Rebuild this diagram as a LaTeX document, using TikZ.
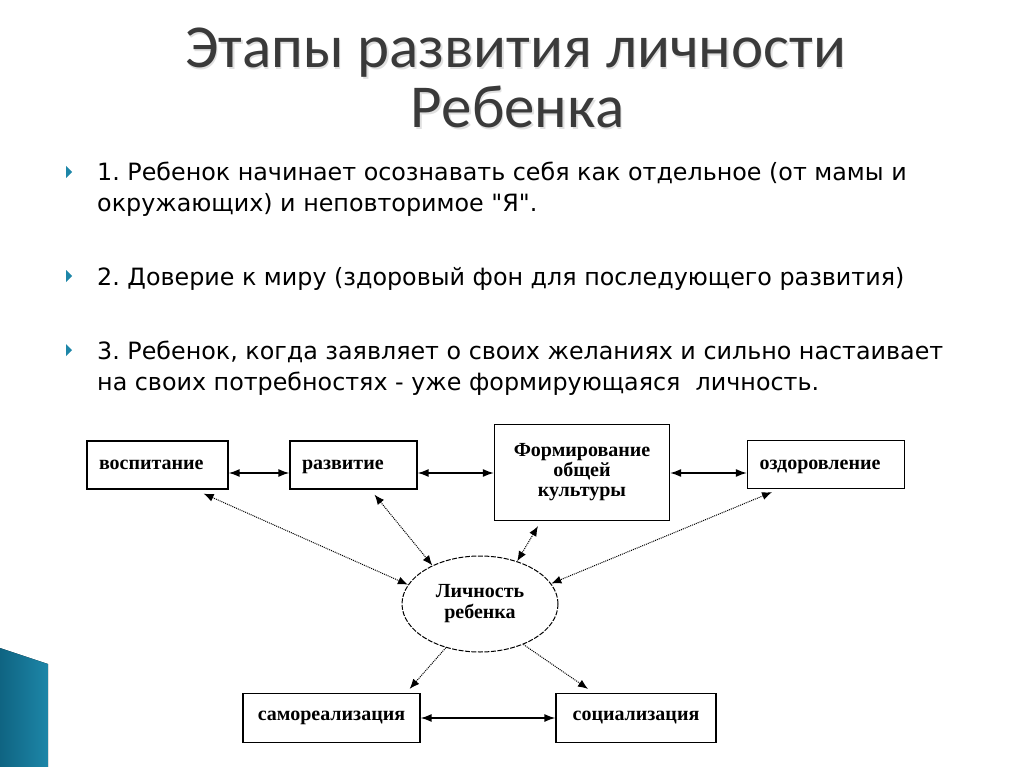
\documentclass[tikz,border=0pt]{standalone}
\usepackage{fontspec}
\setmainfont{DejaVu Sans}
\newfontfamily\bodyfont{DejaVu Sans}
\newfontfamily\titlefont{Carlito}
\newfontfamily\diafont{Liberation Serif}
\usetikzlibrary{shapes.geometric,arrows.meta}
\definecolor{titlegrey}{HTML}{3A3A3A}
\definecolor{teal}{HTML}{1D86A8}
\definecolor{tealdark}{HTML}{0F6482}
\frenchspacing
\tikzset{
  box/.style={draw=black, line width=1.2pt, inner sep=2pt, align=center,
    font=\diafont\bfseries\fontsize{20}{23}\selectfont},
  leftbox/.style={box, align=left, inner xsep=12pt, minimum height=48pt},
  titletext/.style={font=\titlefont\fontsize{61}{66}\selectfont, text=titlegrey, anchor=base},
  bodytext/.style={font=\bodyfont\fontsize{23.8}{28}\selectfont, anchor=base west, inner sep=0pt, text=black},
  bulletmark/.style={fill=teal, draw=none},
  solidlink/.style={line width=1.5pt, {Latex[length=11pt,width=8pt]}-{Latex[length=11pt,width=8pt]}},
  dotlink/.style={line width=1pt, densely dotted, {Latex[length=10pt,width=8pt]}-{Latex[length=10pt,width=8pt]}},
  dotone/.style={line width=1pt, densely dotted, -{Latex[length=10pt,width=8pt]}},
}
\begin{document}
\begin{tikzpicture}[x=1pt,y=-1pt]
\useasboundingbox (0,0) rectangle (1024,767);
\fill[white] (0,0) rectangle (1024,767);
% corner decoration
\fill[left color=tealdark, right color=teal] (0,648) -- (48,664) -- (48,767) -- (0,767) -- cycle;
% title
\node[titletext, text=black!12] (t1s) at (517,69.5) {Этапы развития личности};
\node[titletext] (t1) at (515.5,68) {Этапы развития личности};
\node[titletext, text=black!12] (t2s) at (519,129.5) {Ребенка};
\node[titletext] (t2) at (517.5,128) {Ребенка};
% bullets
\foreach \yy in {172,276,350}{
  \fill[bulletmark] (66,\yy-6) -- (72,\yy) -- (66,\yy+6) -- cycle;
}
\node[bodytext] (l1) at (97,181) {1. Ребенок начинает осознавать себя как отдельное (от мамы и};
\node[bodytext] (l2) at (97,212) {окружающих) и неповторимое "Я".};
\node[bodytext] (l3) at (97,285) {2. Доверие к миру (здоровый фон для последующего развития)};
\node[bodytext] (l4) at (97,359) {3. Ребенок, когда заявляет о своих желаниях и сильно настаивает};
\node[bodytext] (l5) at (97,390) {на своих потребностях - уже формирующаяся\ \ личность.};
% diagram
\node[leftbox, text width=117pt] (vos) at (157.5,465) {\strut воспитание};
\node[leftbox, text width=103pt] (raz) at (353.5,465) {\strut развитие};
\node[box, minimum width=175pt, minimum height=96pt] (form) at (582,472.5) {Формирование\\[-3pt]общей\\[-3pt]культуры};
\node[leftbox, text width=133pt] (ozd) at (826,464.5) {\strut оздоровление};
\node[box, draw=none, ellipse, minimum width=156pt, minimum height=96pt] (lich) at (480,604) {Личность\\[-2pt]ребенка};
\draw[line width=1pt, dash pattern=on 5pt off 1.5pt] (lich.center) ellipse [x radius=78pt, y radius=48pt];
\node[box, minimum width=177pt, minimum height=49pt] (samo) at (331.5,718) {самореализация};
\node[box, minimum width=160pt, minimum height=49pt] (soc) at (636,718) {социализация};
% solid links
\draw[solidlink] ([yshift=-8pt]vos.east) -- ([yshift=-8pt]raz.west);
\draw[solidlink] ([yshift=-8pt]raz.east) -- ([yshift=-8pt]raz.east -| form.west);
\draw[solidlink] ([yshift=-8.5pt]ozd.west -| form.east) -- ([yshift=-8.5pt]ozd.west);
\draw[solidlink] (samo.east) -- (soc.west);
% dotted links
\draw[dotlink] ([xshift=-25pt,yshift=-4pt]vos.south east) -- (lich.165);
\draw[dotlink] ([xshift=21pt,yshift=-5pt]raz.south) -- (lich.141);
\draw[dotlink] ([xshift=-44pt,yshift=-5pt]form.south) -- (lich.49);
\draw[dotlink] ([xshift=-54pt,yshift=-3pt]ozd.south) -- (lich.16);
\draw[dotone] (lich.232) -- ([xshift=-11pt,yshift=4pt]samo.north east);
\draw[dotone] (lich.317) -- ([xshift=-48pt,yshift=4pt]soc.north);
\end{tikzpicture}
\end{document}
